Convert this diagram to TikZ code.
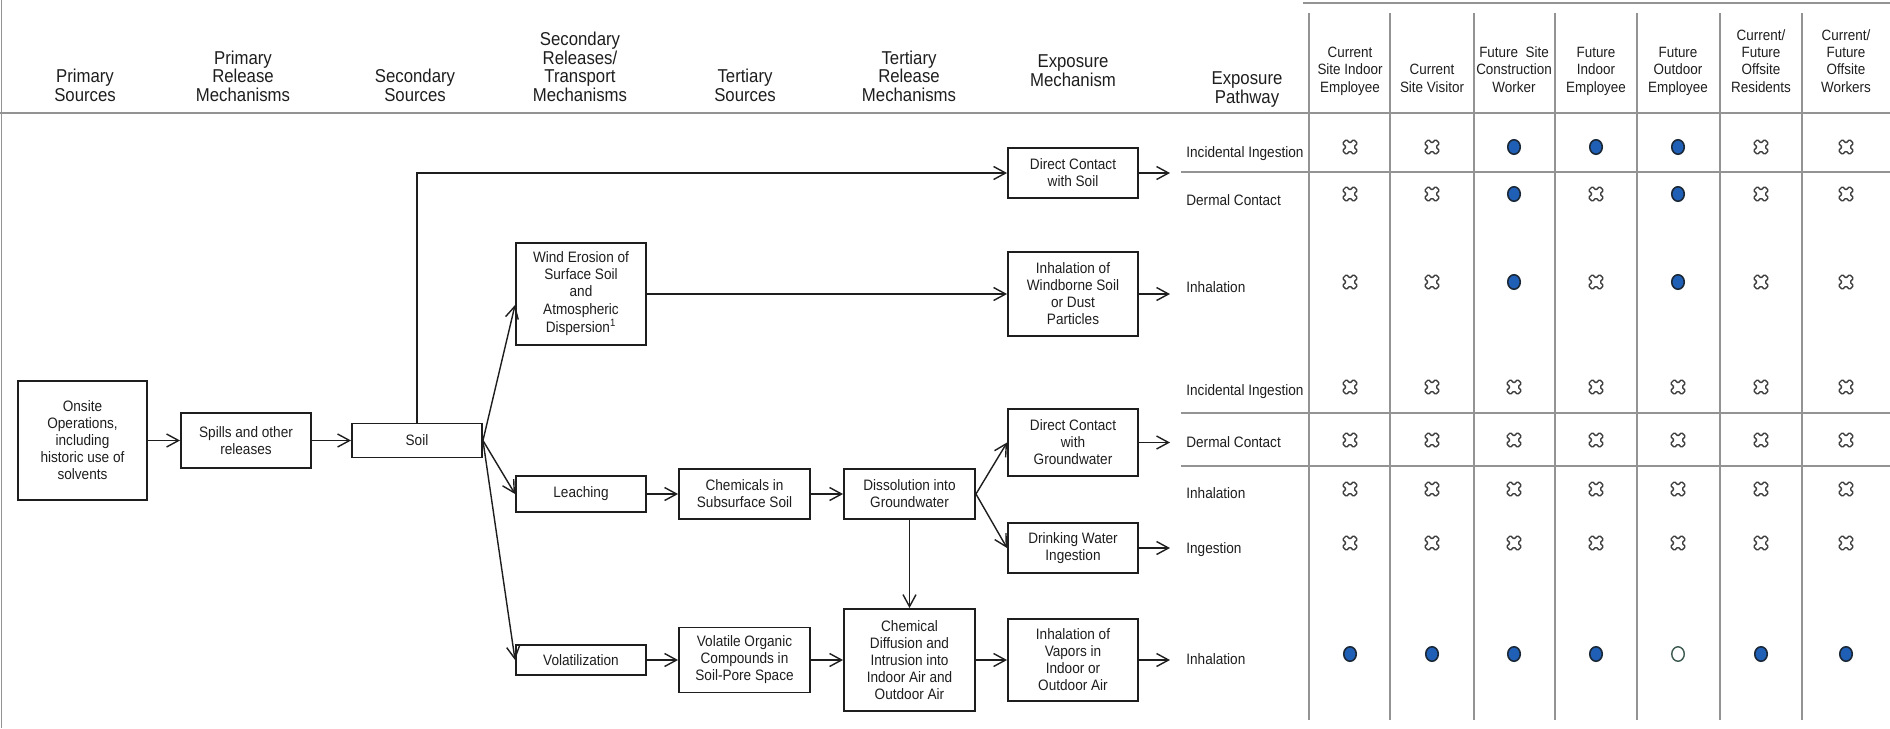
\documentclass[tikz,border=0pt]{standalone}
\usepackage{fontspec}
\setmainfont{Liberation Sans}[FakeStretch=0.9]
\usetikzlibrary{arrows.meta}
\definecolor{inkc}{HTML}{1E1E1E}
\definecolor{gridc}{HTML}{939393}
\definecolor{dotblue}{HTML}{1F5FB5}
\definecolor{dotedge}{HTML}{1B2838}
\definecolor{openedge}{HTML}{3C5A50}
\definecolor{xgray}{HTML}{3E3E3E}
\begin{document}
\begin{tikzpicture}[x=0.02cm,y=-0.02cm,
  box/.style={draw=inkc, line width=1.1pt, align=center, inner sep=0pt,
    text=inkc, font=\fontsize{8.6}{9.7}\selectfont},
  arr/.style={draw=inkc, line width=0.8pt,
    -{Straight Barb[length=2.4mm,width=2.6mm,line width=0.8pt]}},
  hdr/.style={align=center, inner sep=0pt, anchor=base, text=inkc,
    font=\fontsize{10.6}{10.5}\selectfont},
  rhdr/.style={align=center, inner sep=0pt, anchor=base, text=inkc,
    font=\fontsize{8.5}{9.7}\selectfont},
  pwlabel/.style={anchor=base west, inner sep=0pt, text=inkc,
    font=\fontsize{8.6}{9.7}\selectfont},
  gridline/.style={draw=gridc, line width=0.8pt},
  nox/.pic={\draw[draw=xgray, line width=0.8pt, fill=white, rotate=45,
      rounded corners=0.6pt]
      (2.8,7.8) -- (2.8,2.8) -- (7.8,2.8) -- (7.8,-2.8) -- (2.8,-2.8)
      -- (2.8,-7.8) -- (-2.8,-7.8) -- (-2.8,-2.8) -- (-7.8,-2.8)
      -- (-7.8,2.8) -- (-2.8,2.8) -- (-2.8,7.8) -- cycle;},
  fulldot/.pic={\draw[draw=dotedge, fill=dotblue, line width=0.9pt]
      (0,0) ellipse [x radius=0.125cm, y radius=0.145cm];},
  emptydot/.pic={\draw[draw=openedge, fill=white, line width=0.8pt]
      (0,0) ellipse [x radius=0.125cm, y radius=0.145cm];}
]
\useasboundingbox (0,0) rectangle (1890,728);

% page frame, header rule and table grid
\draw[draw=gridc, line width=1.0pt] (1.5,0) -- (1.5,728);
\draw[draw=gridc, line width=1.2pt] (0,113) -- (1890,113);
\draw[gridline] (1303,3) -- (1890,3);
\foreach \gx in {1309,1390,1474,1555,1637,1720,1802}
  \draw[gridline] (\gx,13) -- (\gx,720);
\foreach \gy in {172,413,466}
  \draw[gridline] (1181,\gy) -- (1890,\gy);

% column headings (anchored on the baseline of their last line)
\node[hdr] (hA) at (85,101) {Primary\\Sources};
\node[hdr] (hB) at (243,101) {Primary\\Release\\Mechanisms};
\node[hdr] (hC) at (415,101) {Secondary\\Sources};
\node[hdr] (hD) at (580,101) {Secondary\\Releases/\\Transport\\Mechanisms};
\node[hdr] (hE) at (745,101) {Tertiary\\Sources};
\node[hdr] (hF) at (909,101) {Tertiary\\Release\\Mechanisms};
\node[hdr] (hG) at (1073,86) {Exposure\\Mechanism};
\node[hdr] (hH) at (1247,103) {Exposure\\Pathway};

% receptor headings
\node[rhdr] (r1) at (1350,92) {Current\\Site Indoor\\Employee};
\node[rhdr] (r2) at (1432,92) {Current\\Site Visitor};
\node[rhdr] (r3) at (1514,92) {Future\ \ Site\\Construction\\Worker};
\node[rhdr] (r4) at (1596,92) {Future\\Indoor\\Employee};
\node[rhdr] (r5) at (1678,92) {Future\\Outdoor\\Employee};
\node[rhdr] (r6) at (1761,92) {Current/\\Future\\Offsite\\Residents};
\node[rhdr] (r7) at (1846,92) {Current/\\Future\\Offsite\\Workers};

% flow boxes
\node[box, minimum width=2.58cm, minimum height=2.38cm] (onsite) at (82.5,440.5)
  {Onsite\\Operations,\\including\\historic use of\\solvents};
\node[box, minimum width=2.6cm, minimum height=1.1cm] (spills) at (246,440.5)
  {Spills and other\\releases};
\node[box, minimum width=2.6cm, minimum height=0.68cm] (soil) at (417,440.5) {Soil};
\node[box, minimum width=2.6cm, minimum height=2.04cm] (wind) at (581,294)
  {Wind Erosion of\\Surface Soil\\and\\Atmospheric\\Dispersion\textsuperscript{1}};
\node[box, minimum width=2.6cm, minimum height=0.72cm] (leach) at (581,494) {Leaching};
\node[box, minimum width=2.6cm, minimum height=0.6cm] (vol) at (581,660) {Volatilization};
\node[box, minimum width=2.62cm, minimum height=1.0cm] (chem) at (744.5,494)
  {Chemicals in\\Subsurface Soil};
\node[box, minimum width=2.62cm, minimum height=1.3cm] (voc) at (744.5,660)
  {Volatile Organic\\Compounds in\\Soil-Pore Space};
\node[box, minimum width=2.62cm, minimum height=1.0cm] (diss) at (909.5,494)
  {Dissolution into\\Groundwater};
\node[box, minimum width=2.62cm, minimum height=2.04cm] (chemdiff) at (909.5,660)
  {Chemical\\Diffusion and\\Intrusion into\\Indoor Air and\\Outdoor Air};
\node[box, minimum width=2.6cm, minimum height=1.0cm] (dcs) at (1073,173)
  {Direct Contact\\with Soil};
\node[box, minimum width=2.6cm, minimum height=1.68cm] (wbs) at (1073,294)
  {Inhalation of\\Windborne Soil\\or Dust\\Particles};
\node[box, minimum width=2.6cm, minimum height=1.34cm] (dcg) at (1073,442.5)
  {Direct Contact\\with\\Groundwater};
\node[box, minimum width=2.6cm, minimum height=1.0cm] (dwi) at (1073,548)
  {Drinking Water\\Ingestion};
\node[box, minimum width=2.6cm, minimum height=1.64cm] (vap) at (1073,660)
  {Inhalation of\\Vapors in\\Indoor or\\Outdoor Air};

% exposure pathway labels
\node[pwlabel] (p1) at (1186,157) {Incidental Ingestion};
\node[pwlabel] (p2) at (1186,205) {Dermal Contact};
\node[pwlabel] (p3) at (1186,292) {Inhalation};
\node[pwlabel] (p4) at (1186,395) {Incidental Ingestion};
\node[pwlabel] (p5) at (1186,447) {Dermal Contact};
\node[pwlabel] (p6) at (1186,498) {Inhalation};
\node[pwlabel] (p7) at (1186,553) {Ingestion};
\node[pwlabel] (p8) at (1186,664) {Inhalation};

% arrow ends in front of the pathway column
\coordinate (e1) at (1170,173);
\coordinate (e2) at (1170,294);
\coordinate (e3) at (1170,442.5);
\coordinate (e4) at (1170,548);
\coordinate (e5) at (1170,660);

% connectors
\draw[arr] (onsite) -- (spills);
\draw[arr] (spills) -- (soil);
\draw[arr] (soil.north) |- (dcs.west);
\draw[arr] (soil.east) -- ([yshift=-0.22cm]wind.west);
\draw[arr] (soil.east) -- (leach.west);
\draw[arr] (soil.east) -- (vol.west);
\draw[arr] (wind) -- (wbs);
\draw[arr] (leach) -- (chem);
\draw[arr] (chem) -- (diss);
\draw[arr] (vol) -- (voc);
\draw[arr] (voc) -- (chemdiff);
\draw[arr] (diss) -- (chemdiff);
\draw[arr] (diss.east) -- (dcg.west);
\draw[arr] (diss.east) -- (dwi.west);
\draw[arr] (chemdiff) -- (vap);
\draw[arr] (dcs.east) -- (e1);
\draw[arr] (wbs.east) -- (e2);
\draw[arr] (dcg.east) -- (e3);
\draw[arr] (dwi.east) -- (e4);
\draw[arr] (vap.east) -- (e5);

% receptor matrix: complete pathways (dots) and incomplete ones (crosses)
\foreach \cx in {1350,1432,1761,1846}
  \foreach \yy in {147,194,282}
    \pic at (\cx,\yy) {nox};
\foreach \yy in {194,282}
  \pic at (1596,\yy) {nox};
\foreach \cx in {1514,1678}
  \foreach \yy in {147,194,282}
    \pic at (\cx,\yy) {fulldot};
\pic at (1596,147) {fulldot};
\foreach \cx in {1350,1432,1514,1596,1678,1761,1846}
  \foreach \yy in {387,440,489,543}
    \pic at (\cx,\yy) {nox};
\foreach \cx in {1350,1432,1514,1596,1761,1846}
  \pic at (\cx,654) {fulldot};
\pic at (1678,654) {emptydot};
\end{tikzpicture}
\end{document}
